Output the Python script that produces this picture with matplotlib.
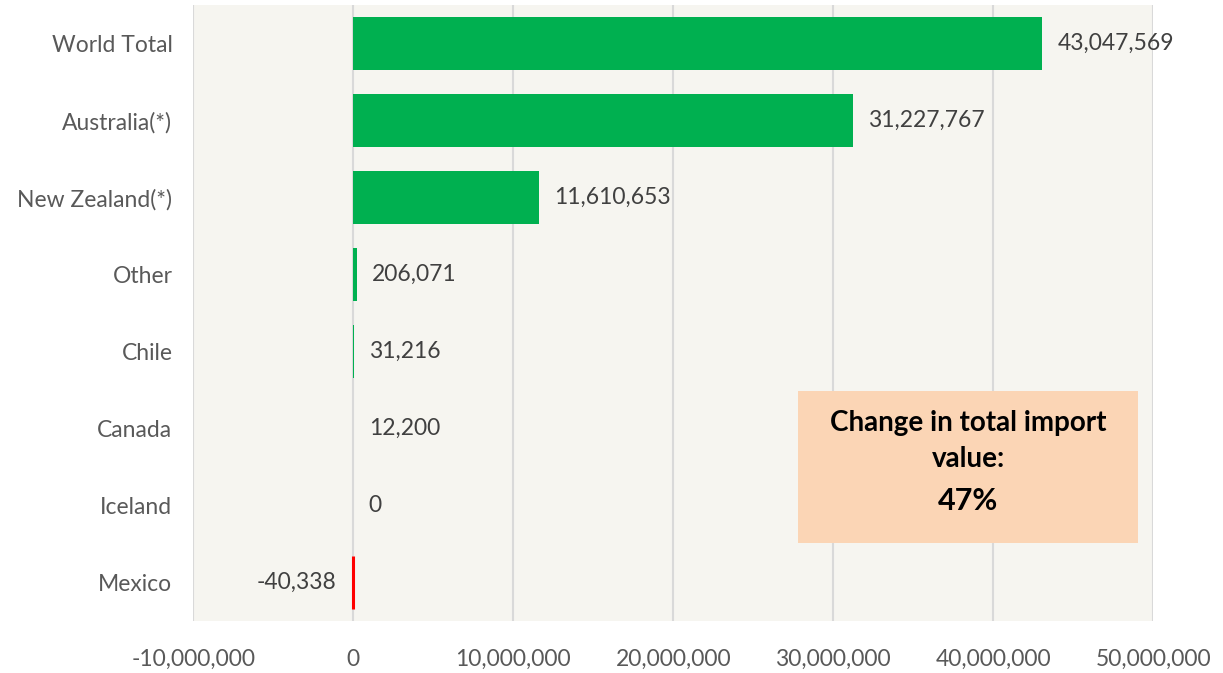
import numpy as np
import matplotlib
matplotlib.use("Agg")
import matplotlib.pyplot as plt
from matplotlib.ticker import FuncFormatter

# Dados do gráfico (de cima para baixo)
countries = ["World Total", "Australia(*)", "New Zealand(*)", "Other",
             "Chile", "Canada", "Iceland", "Mexico"]
changes = [43047569, 31227767, 11610653, 206071, 31216, 12200, 0, -40338]
x_ticks = [-10000000, 0, 10000000, 20000000, 30000000, 40000000, 50000000]
box_title = "Change in total import\nvalue:"
box_value = "47%"

plt.rcParams["font.family"] = ["Lato", "DejaVu Sans"]

fig = plt.figure(figsize=(12.23, 6.73), dpi=100)
ax = fig.add_axes([0.158, 0.0773, 0.785, 0.915])
ax.set_facecolor("#f6f5f0")

y = np.arange(len(countries))
colors = ["#ff0000" if v < 0 else "#00b050" for v in changes]
edges = ["#ff0000" if v < 0 else "none" for v in changes]
ax.barh(y, changes, height=0.68, color=colors, edgecolor=edges,
        linewidth=2.2, zorder=3)

# Rótulos de valor
for yi, v in zip(y, changes):
    txt = f"{v:,}"
    if v < 0:
        ax.annotate(txt, (v, yi), xytext=(-12, 0), textcoords="offset points",
                    ha="right", va="center", fontsize=16.5, color="#404040")
    else:
        ax.annotate(txt, (max(v, 0), yi), xytext=(11, 0), textcoords="offset points",
                    ha="left", va="center", fontsize=16.5, color="#404040")

ax.set_xlim(-10000000, 50000000)
ax.set_ylim(len(countries) - 0.5, -0.5)
ax.set_xticks(x_ticks)
ax.xaxis.set_major_formatter(FuncFormatter(lambda v, p: f"{int(v):,}"))
ax.set_yticks(y)
ax.set_yticklabels(countries)
ax.tick_params(axis="both", length=0, labelsize=16.5, labelcolor="#595959")
ax.tick_params(axis="x", pad=20)
ax.tick_params(axis="y", pad=15)
ax.grid(axis="x", color="#d9d9d9", linewidth=1.5, zorder=0)
for s in ax.spines.values():
    s.set_visible(False)

# Caixa de texto
box_x0, box_y0 = 798 / 1223, 1 - 543 / 673
box_w, box_h = (1138 - 798) / 1223, (543 - 391) / 673
fig.patches.append(plt.Rectangle((box_x0, box_y0), box_w, box_h,
                                 transform=fig.transFigure, facecolor="#fbd5b5",
                                 edgecolor="none", zorder=5))
fig.text(box_x0 + box_w / 2, 1 - 441 / 673, box_title, ha="center", va="center",
         fontsize=20, fontweight="bold", color="#000000", linespacing=1.5,
         zorder=6)
fig.text(box_x0 + box_w / 2, 1 - 501 / 673, box_value, ha="center", va="center",
         fontsize=22, fontweight="bold", color="#000000", zorder=6)

fig.savefig("out.png", dpi=100, facecolor="white")
